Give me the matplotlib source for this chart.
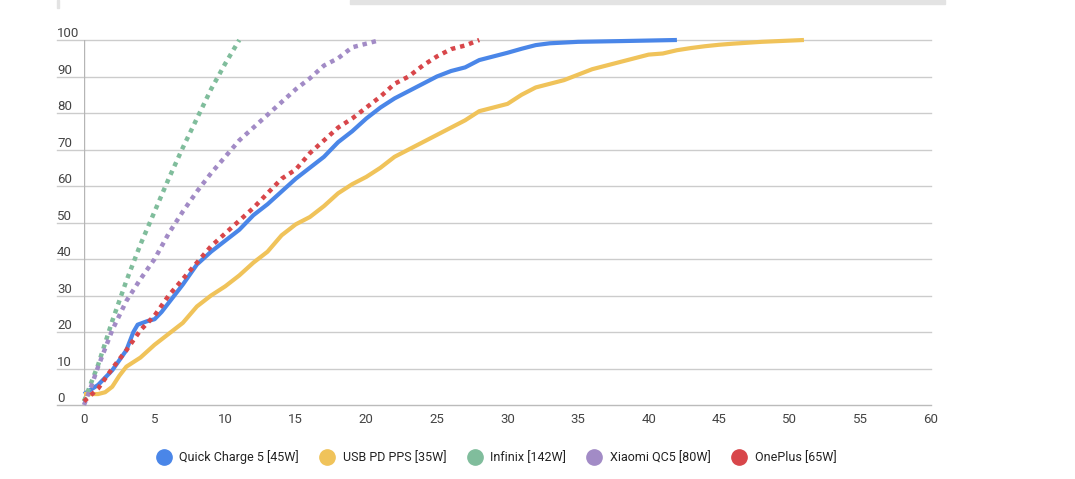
import matplotlib
matplotlib.use("Agg")
import matplotlib.pyplot as plt
from matplotlib.lines import Line2D
from matplotlib.patches import Rectangle

plt.rcParams['font.family'] = ['Roboto', 'DejaVu Sans']

# minutes vs. charge %
qc5_x = [0, 1, 2, 3, 3.5, 3.8, 4.5, 5, 5.5, 6, 7, 8, 9, 10, 11, 12, 13, 14, 15, 16, 17,
         18, 19, 20, 21, 22, 23, 24, 25, 26, 27, 28, 29, 30, 31, 32, 33, 35, 38, 42]
qc5_y = [3, 5.5, 9.5, 15, 20, 22, 23, 23.5, 25.5, 28, 33, 38.5, 42, 45, 48, 52, 55, 58.5, 62, 65, 68,
         72, 75, 78.5, 81.5, 84, 86, 88, 90, 91.5, 92.5, 94.5, 95.5, 96.5, 97.6, 98.6, 99.1, 99.5, 99.7, 100]

pps_x = [0, 1, 1.5, 2, 2.5, 3, 4, 5, 6, 7, 8, 9, 10, 11, 12, 13, 14, 15, 16, 17, 18, 19, 20,
         21, 22, 23, 24, 25, 26, 27, 28, 29, 30, 31, 32, 33, 34, 35, 36, 37, 38, 39, 40, 41,
         42, 43, 44, 45, 46, 48, 51]
pps_y = [3, 3, 3.5, 5, 8, 10.5, 13, 16.5, 19.5, 22.5, 27, 30, 32.5, 35.5, 39, 42, 46.5, 49.5, 51.5,
         54.5, 58, 60.5, 62.5, 65, 68, 70, 72, 74, 76, 78, 80.5, 81.5, 82.5, 85, 87, 88, 89, 90.5,
         92, 93, 94, 95, 96, 96.3, 97.2, 97.8, 98.3, 98.7, 99, 99.5, 100]

infinix_x = [0, 1, 2, 3, 4, 5, 6, 7, 8, 9, 10, 11]
infinix_y = [1, 11, 23, 34, 44, 53, 62, 70.5, 78.5, 86.5, 93.5, 100]

xiaomi_x = [0, 0.5, 1, 2, 3, 4, 5, 6, 7, 8, 9, 10, 11, 12, 13, 14, 15, 16, 17, 18, 19, 20, 21]
xiaomi_y = [0, 5, 10.5, 20.5, 28.5, 34.5, 40, 47, 53, 58.5, 63.5, 68, 72.5, 76, 79.5, 83, 86.5,
            89.5, 93, 95, 98, 99, 100]

oneplus_x = list(range(0, 29))
oneplus_y = [1, 4.5, 10, 15, 20.5, 24.5, 30, 34.5, 39, 43.5, 47, 50.5, 54, 58, 62, 64.5, 69,
             72.5, 76, 78.5, 81.5, 84.5, 88, 90, 93, 95.5, 97.5, 98.5, 100]

labels = ['Quick Charge 5 [45W]', 'USB PD PPS [35W]', 'Infinix [142W]',
          'Xiaomi QC5 [80W]', 'OnePlus [65W]']
colors = ['#4a86e8', '#f0c35a', '#80bd9c', '#a28bc6', '#d8464a']
series = [(qc5_x, qc5_y, '-'), (pps_x, pps_y, '-'), (infinix_x, infinix_y, ':'),
          (xiaomi_x, xiaomi_y, ':'), (oneplus_x, oneplus_y, ':')]

fig = plt.figure(figsize=(10.75, 4.79), dpi=100)
ax = fig.add_axes([84/1075, 1 - 405/479, 847/1075, 365/479])

for (xs, ys, ls), c in zip(series, colors):
    if ls == '-':
        ax.plot(xs, ys, color=c, lw=3, solid_capstyle='butt', solid_joinstyle='round',
                clip_on=False, zorder=3)
    else:
        ax.plot(xs, ys, color=c, lw=3.2, linestyle=(0, (1, 1.1)), dash_capstyle='butt',
                clip_on=False, zorder=3)

ax.set_xlim(0, 60)
ax.set_ylim(0, 100)
for s in ax.spines.values():
    s.set_visible(False)

# gridlines run under the left-hand labels
for v in range(0, 101, 10):
    ax.axhline(v, xmin=-27/847, xmax=1, color='#cccccc' if v else '#bbbbbb',
               lw=1, clip_on=False, zorder=1)
    ax.text(-27/847, v + 0.8, str(v), transform=ax.get_yaxis_transform(),
            ha='left', va='baseline', fontsize=9.5, color='#444444')
ax.axvline(0, color='#b5b5b5', lw=1, zorder=1)

ax.set_yticks([])
ax.set_xticks(range(0, 61, 5))
ax.tick_params(axis='x', length=0, pad=6, labelsize=9.5, labelcolor='#444444')

handles = [Line2D([], [], marker='o', ls='none', markersize=11, color=c) for c in colors]
fig.legend(handles, labels, loc='center', bbox_to_anchor=(497/1075, 1 - 457/479), ncol=5,
           frameon=False, fontsize=9, handletextpad=0.75, columnspacing=1.75,
           handlelength=1.0, labelcolor='#222222')

# page artifacts along the top edge
fig.patches.append(Rectangle((350/1075, 1 - 4/479), 595/1075, 4/479, transform=fig.transFigure,
                             color='#e3e3e3', zorder=0))
fig.patches.append(Rectangle((57/1075, 1 - 8/479), 2/1075, 8/479, transform=fig.transFigure,
                             color='#e3e3e3', zorder=0))

fig.savefig('out.png', dpi=100)
